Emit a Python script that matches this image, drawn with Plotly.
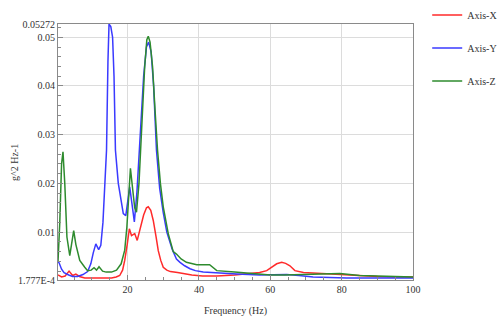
import plotly.graph_objects as go

# ---------------- data ----------------
freq_x = [0.5, 1.5, 2.5, 3.6, 4.6, 5.5, 6.5, 8, 10, 12, 14, 15.5, 16.8, 17.8, 18.6, 19.2, 19.9, 20.5, 21.1, 22,
          22.7, 23.5, 24.5, 25.3, 25.8, 26.5, 27.2, 28, 28.6, 29.3, 30, 31, 32, 34, 35.6, 38, 41, 45, 50, 55,
          57, 59, 60.5, 61.8, 63.2, 64.3, 65.5, 66.9, 69.3, 72, 75, 78, 82, 86, 90, 95, 100]
psd_x = [0.0012, 0.0008, 0.0010, 0.0020, 0.0011, 0.0014, 0.0009, 0.0006, 0.0006, 0.0006, 0.0006, 0.0006, 0.0008,
         0.0011, 0.0022, 0.0042, 0.0075, 0.0107, 0.0093, 0.0097, 0.0083, 0.0105, 0.0135, 0.0150, 0.0152, 0.0145,
         0.0124, 0.0090, 0.0062, 0.0042, 0.0028, 0.0022, 0.0019, 0.0017, 0.0015, 0.0012, 0.0010, 0.0010, 0.0012,
         0.0015, 0.0017, 0.0021, 0.0028, 0.0035, 0.0038, 0.0036, 0.0031, 0.0021, 0.0017, 0.0016, 0.0015, 0.0014,
         0.0011, 0.0010, 0.0009, 0.0008, 0.0008]

freq_y = [0.5, 0.8, 1.5, 2.2, 3.5, 4.6, 6, 7.5, 8.8, 9.7, 10.4, 11.1, 11.9, 12.5, 13.1, 13.7, 14.1, 14.5, 14.8,
          15.3, 15.8, 16.2, 16.6, 17.4, 18.8, 19.5, 20.6, 21.2, 21.9, 22.6, 23.5, 24.5, 25.3, 25.9, 26.6, 27.3,
          28.1, 29, 30, 31, 32.5, 33.7, 34.7, 36, 37.5, 39, 41.2, 45, 50.6, 57, 64.6, 68, 72, 81.4, 90, 100]
psd_y = [0.0040, 0.0037, 0.0024, 0.0017, 0.0012, 0.0009, 0.0009, 0.0013, 0.0019, 0.0035, 0.0058, 0.0076, 0.0064,
         0.0073, 0.0120, 0.0207, 0.0268, 0.0450, 0.0527, 0.0522, 0.0500, 0.0420, 0.0268, 0.0200, 0.0138, 0.0134,
         0.0193, 0.0160, 0.0121, 0.0180, 0.0300, 0.0420, 0.0480, 0.0490, 0.0470, 0.0400, 0.0268, 0.0190, 0.0140,
         0.0100, 0.0065, 0.0045, 0.0038, 0.0031, 0.0025, 0.0021, 0.0018, 0.0016, 0.0014, 0.0012, 0.0013, 0.0011,
         0.0008, 0.0006, 0.0006, 0.0006]

freq_z = [0.5, 1.0, 1.5, 1.9, 2.4, 3.0, 3.8, 4.4, 4.9, 5.5, 6.6, 8, 8.8, 9.8, 10.6, 11.3, 12, 13, 14, 15.5, 16.9,
          18.2, 19.2, 19.8, 20.2, 20.8, 21.4, 22, 22.5, 23.2, 24, 24.8, 25.4, 25.8, 26.3, 27, 27.7, 28.4, 29.2,
          30, 31.4, 32.8, 33.7, 35, 36.5, 39.4, 43, 45, 50, 55, 60, 64, 68.3, 75, 79.5, 85, 92, 99, 100]
psd_z = [0.0040, 0.0120, 0.0240, 0.0265, 0.0200, 0.0090, 0.0052, 0.0080, 0.0103, 0.0075, 0.0042, 0.0028, 0.0021,
         0.0022, 0.0027, 0.0022, 0.0029, 0.0020, 0.0018, 0.0018, 0.0022, 0.0035, 0.0063, 0.0110, 0.0165, 0.0231,
         0.0190, 0.0150, 0.0141, 0.0200, 0.0320, 0.0440, 0.0495, 0.0502, 0.0490, 0.0440, 0.0350, 0.0268, 0.0200,
         0.0152, 0.0097, 0.0060, 0.0055, 0.0045, 0.0038, 0.0033, 0.0033, 0.0021, 0.0018, 0.0015, 0.0012, 0.0012,
         0.0013, 0.0014, 0.0015, 0.0011, 0.0009, 0.0008, 0.0008]

series_names = ["Axis-X", "Axis-Y", "Axis-Z"]
series_colors = ["#ff2a2a", "#3a3aff", "#2e8b2e"]

y_tickvals = [0.0001777, 0.01, 0.02, 0.03, 0.04, 0.05, 0.05272]
y_ticktext = ["1.777E-4", "0.01", "0.02", "0.03", "0.04", "0.05", "0.05272"]
x_tickvals = [20, 40, 60, 80, 100]

FONT = "Liberation Serif"

fig = go.Figure()
for i, (f, v) in enumerate([(freq_x, psd_x), (freq_y, psd_y), (freq_z, psd_z)]):
    fig.add_trace(go.Scatter(x=f, y=v, mode="lines", name=series_names[i],
                             legendgroup=series_names[i],
                             line=dict(color=series_colors[i], width=1.5)))

axis_common = dict(showline=True, mirror=True, linecolor="#8a8a8a", linewidth=1,
                   showgrid=True, gridcolor="#dcdcdc", gridwidth=1, zeroline=False,
                   ticks="inside", ticklen=5, tickcolor="#8a8a8a",
                   tickfont=dict(family=FONT, size=10, color="#333"))

fig.update_xaxes(range=[0.5, 100], tickvals=x_tickvals, **axis_common,
                 minor=dict(ticks="inside", dtick=5, tick0=0, ticklen=3, tickcolor="#8a8a8a", showgrid=False))
fig.update_yaxes(range=[0.0001777, 0.05272], tickvals=y_tickvals, ticktext=y_ticktext, **axis_common,
                 minor=dict(ticks="inside", dtick=0.002, tick0=0, ticklen=3, tickcolor="#8a8a8a", showgrid=False))

fig.update_layout(
    width=500, height=324,
    margin=dict(l=58, r=87, t=24, b=44, autoexpand=False),
    paper_bgcolor="white", plot_bgcolor="white",
    font=dict(family=FONT, size=10, color="#333"),
    legend=dict(x=1.04, y=1.092, xanchor="left", yanchor="top",
                tracegroupgap=14, font=dict(family=FONT, size=10, color="#333"),
                bgcolor="rgba(0,0,0,0)"),
    annotations=[
        dict(text="g^2 Hz-1", xref="paper", yref="paper", x=(14 - 58) / 355, y=(280 - 163) / 256,
             xanchor="center", yanchor="middle",
             textangle=-90, showarrow=False, font=dict(family=FONT, size=10, color="#333")),
        dict(text="Frequency (Hz)", xref="paper", yref="paper", x=0.5, y=(280 - 311) / 256,
             xanchor="center", yanchor="middle",
             showarrow=False, font=dict(family=FONT, size=10, color="#333")),
    ],
)

fig.write_html("out.html")
